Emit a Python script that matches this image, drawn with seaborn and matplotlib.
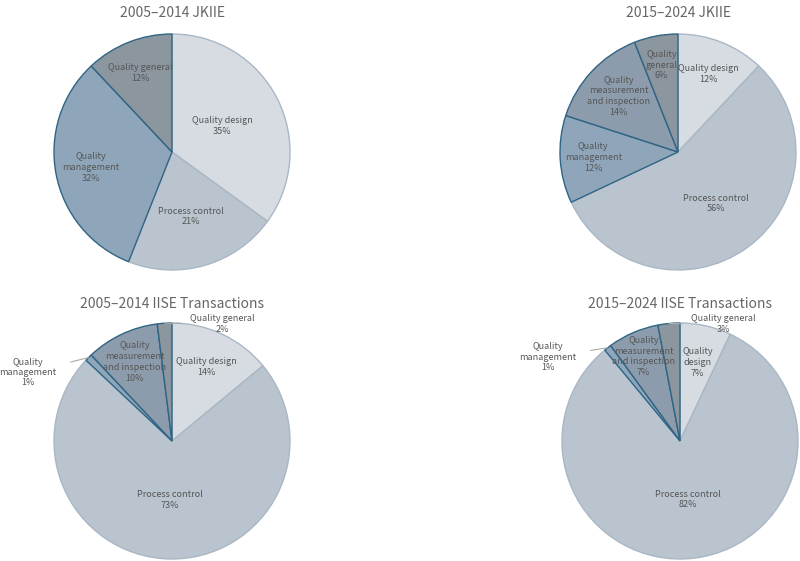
import numpy as np
import matplotlib.pyplot as plt
import seaborn as sns

sns.set_theme(style="white")
plt.rcParams['font.family'] = ['Noto Sans CJK KR', 'DejaVu Sans']

# Data
categories = ['Quality design', 'Process control', 'Quality\nmanagement',
              'Quality\nmeasurement\nand inspection', 'Quality general']
titles = ['2005–2014 JKIIE', '2015–2024 JKIIE',
          '2005–2014 IISE Transactions', '2015–2024 IISE Transactions']
jkiie_2005 = [35, 21, 32, 0, 12]
jkiie_2015 = [12, 56, 12, 14, 6]
iise_2005 = [14, 73, 1, 10, 2]
iise_2015 = [7, 82, 1, 7, 3]
all_values = [jkiie_2005, jkiie_2015, iise_2005, iise_2015]

colors = ['#d7dce2', '#b9c4cf', '#8fa6ba', '#8d9cac', '#8c969f']
edges = ['#a9b7c4', '#a9b7c4', '#2f6584', '#2f6584', '#2f6584']

# layout: pie centres (px), label radius per slice, outside labels
centres = [(172, 152), (678, 152), (172, 441), (680, 441)]
R = 118
label_r = [
    [0.48, 0.57, 0.70, 0.70, 0.72],
    [0.71, 0.54, 0.72, 0.69, 0.75],
    [0.69, 0.50, None, 0.74, None],
    [0.68, 0.50, None, 0.78, None],
]
# outside labels: slice index -> text position in axes data units
outside = [
    {},
    {},
    {2: (-1.22, 0.58), 4: (0.43, 0.99)},
    {2: (-1.12, 0.71), 4: (0.37, 0.99)},
]
title_y = [1.18, 1.18, 1.165, 1.165]

fig = plt.figure(figsize=(8, 5.61), dpi=100)

for k, vals in enumerate(all_values):
    cx, cy = centres[k]
    ax = fig.add_axes([(cx - R) / 800, 1 - (cy + R) / 561, 2 * R / 800, 2 * R / 561])
    idx = [i for i, v in enumerate(vals) if v > 0]
    v = [vals[i] for i in idx]
    wedges, _ = ax.pie(v, colors=[colors[i] for i in idx], startangle=90,
                       counterclock=False, radius=1,
                       wedgeprops=dict(linewidth=1.0))
    for w, i in zip(wedges, idx):
        w.set_edgecolor(edges[i])
    ax.set_xlim(-1, 1)
    ax.set_ylim(-1, 1)
    ax.axis('off')

    for w, i in zip(wedges, idx):
        ang = np.deg2rad((w.theta1 + w.theta2) / 2)
        name = categories[i]
        if k == 1 and i == 4:
            name = 'Quality\ngeneral'
        if k == 3 and i == 0:
            name = 'Quality\ndesign'
        txt = f'{name}\n{vals[i]}%'
        if i in outside[k]:
            tx, ty = outside[k][i]
            ex, ey = np.cos(ang), np.sin(ang)
            ax.annotate(txt, xy=(ex, ey), xytext=(tx, ty), ha='center', va='center',
                        fontsize=6.5, color='#555555', annotation_clip=False,
                        linespacing=1.2,
                        arrowprops=dict(arrowstyle='-', color='#aaaaaa', lw=0.8,
                                        shrinkA=8 if i == 2 else 4, shrinkB=0))
        else:
            r = label_r[k][i]
            ax.text(r * np.cos(ang), r * np.sin(ang), txt, ha='center', va='center',
                    fontsize=6.5, color='#555555', linespacing=1.25)

    ax.text(0, title_y[k], titles[k], ha='center', va='center', fontsize=10,
            color='#666666', clip_on=False)

fig.savefig('out.png', dpi=100, facecolor='white')
